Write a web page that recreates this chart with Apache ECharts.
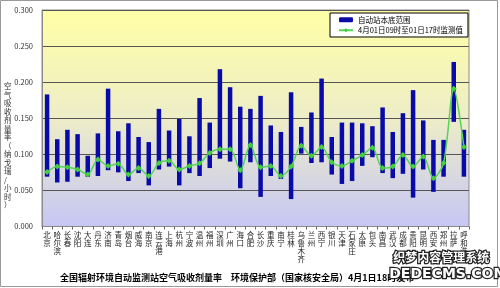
<!DOCTYPE html>
<html><head><meta charset="utf-8">
<script src="https://cdn.jsdelivr.net/npm/echarts@6/dist/echarts.min.js"></script>
<style>html,body{margin:0;padding:0;background:#fff}#c{width:500px;height:288px}</style>
</head><body><div id="c"></div>
<script>
var cities = ['北京','哈尔滨','长春','沈阳','大连','丹东','济南','青岛','烟台','威海','南京','连云港','上海','杭州','宁波','温州','福州','深圳','广州','海口','合肥','长沙','重庆','南宁','桂林','乌鲁木齐','兰州','西宁','银川','天津','石家庄','太原','包头','南昌','武汉','成都','贵阳','昆明','西安','郑州','拉萨','呼和浩特'];
var rangeHigh = [0.183,0.121,0.134,0.128,0.098,0.129,0.191,0.132,0.143,0.124,0.117,0.163,0.133,0.149,0.125,0.178,0.144,0.218,0.193,0.166,0.163,0.181,0.140,0.131,0.186,0.138,0.158,0.205,0.124,0.144,0.144,0.143,0.139,0.165,0.131,0.157,0.189,0.147,0.120,0.120,0.228,0.134];
var rangeLow = [0.069,0.061,0.062,0.069,0.069,0.070,0.078,0.075,0.063,0.074,0.057,0.079,0.083,0.057,0.074,0.070,0.081,0.094,0.090,0.053,0.089,0.041,0.070,0.066,0.038,0.101,0.088,0.089,0.072,0.059,0.063,0.084,0.096,0.074,0.067,0.073,0.040,0.079,0.048,0.069,0.145,0.069];
var measured = [0.0755,0.083,0.082,0.079,0.072,0.093,0.084,0.087,0.072,0.081,0.070,0.088,0.091,0.079,0.084,0.0875,0.102,0.107,0.107,0.078,0.113,0.082,0.084,0.070,0.083,0.112,0.098,0.110,0.089,0.084,0.091,0.099,0.109,0.081,0.083,0.099,0.083,0.097,0.067,0.088,0.191,0.110];
var yTicks = {min:0, max:0.3, step:0.05};
var rangeName = '自动站本底范围';
var lineName = '4月01日09时至01日17时监测值';
var yName = '空气吸收剂量率（纳戈瑞/小时）';
var title = '全国辐射环境自动监测站空气吸收剂量率　环境保护部（国家核安全局）4月1日18时发布';

var span = rangeHigh.map(function(h,i){return +(h-rangeLow[i]).toFixed(4);});
var font = '"Noto Sans CJK SC", sans-serif';
var chart = echarts.init(document.getElementById('c'), null, {renderer:'canvas'});
chart.setOption({
  animation:false,
  textStyle:{fontFamily:font},
  grid:{left:42,right:31,top:10,bottom:61.5,show:true,borderColor:'#8a8a8a',borderWidth:1,
    backgroundColor:{type:'linear',x:0,y:0,x2:0,y2:1,colorStops:[
      {offset:0,color:'#FFFFA6'},{offset:0.5,color:'#EDEDC8'},{offset:1,color:'#C6C6F5'}]}},
  legend:{left:330,top:13,orient:'vertical',data:[rangeName,lineName],
    backgroundColor:'#fff',borderColor:'#000',borderWidth:1,padding:[3,5,3,8],itemGap:3,
    itemWidth:14,itemHeight:5,textStyle:{fontSize:7.5,color:'#000',fontFamily:font}},
  xAxis:{type:'category',data:cities,boundaryGap:true,
    axisLine:{lineStyle:{color:'#8a8a8a'}},
    axisTick:{show:true,length:3,lineStyle:{color:'#666'}},
    axisLabel:{interval:0,color:'#222',margin:5,
      formatter:function(v){return '{a|'+v.split('').join('\n')+'}';},
      rich:{a:{fontSize:7.5,lineHeight:8,fontFamily:font,color:'#222'}}}},
  yAxis:{type:'value',min:yTicks.min,max:yTicks.max,interval:yTicks.step,
    axisLine:{show:true,lineStyle:{color:'#8a8a8a'}},axisTick:{show:false},
    splitLine:{lineStyle:{color:'#555',width:1}},
    axisLabel:{fontSize:7.5,color:'#333',margin:9,formatter:function(v){return v.toFixed(3);}}},
  series:[
    {name:'base',type:'bar',stack:'r',data:rangeLow,barWidth:4.5,silent:true,
      itemStyle:{color:'rgba(0,0,0,0)'}},
    {name:rangeName,type:'bar',stack:'r',data:span,barWidth:4.5,itemStyle:{color:'#0A0AA8'}},
    {name:lineName,type:'line',data:measured,smooth:0.3,symbol:'diamond',symbolSize:6,z:5,
      itemStyle:{color:'#44CC44'},lineStyle:{color:'#55D455',width:1.5}}
  ],
  graphic:[
    {type:'rect',shape:{x:0.5,y:0.5,width:497,height:286},style:{fill:'none',stroke:'#999',lineWidth:1},z:-10},
    {type:'text',left:4,top:82,style:{text:yName.split('').join('\n'),fontSize:7.5,lineHeight:8.5,fill:'#333',fontFamily:font}},
    {type:'text',left:60,top:273,style:{text:title,fontSize:9,fontWeight:'bold',fill:'#000',fontFamily:font}},
    {type:'text',left:392,top:250,style:{text:'织梦内容管理系统',fontSize:12,fontWeight:'bold',fill:'#fff',stroke:'#222',lineWidth:2.5,fontFamily:font},z:100},
    {type:'text',left:388,top:266,style:{text:'DEDECMS.COM',fontSize:14,fontWeight:'bold',fill:'#fff',stroke:'#222',lineWidth:2.5,fontFamily:'"DejaVu Sans", sans-serif'},z:100}
  ]
});
</script></body></html>
